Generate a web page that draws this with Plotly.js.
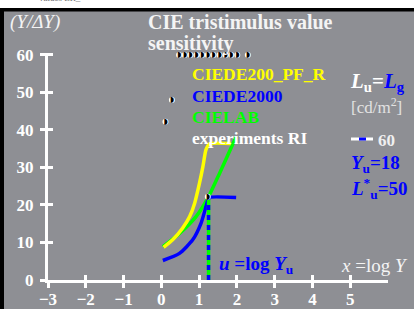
<!DOCTYPE html>
<html><head><meta charset="utf-8">
<script src="https://cdn.plot.ly/plotly-3.0.1.min.js"></script>
<style>html,body{margin:0;padding:0;background:#fff;}#chart{width:414px;height:309px;}</style>
</head><body><div id="chart"></div>
<script>
// ---- data ----
const xTicks = [-3, -2, -1, 0, 1, 2, 3, 4, 5];
const yTicks = [0, 10, 20, 30, 40, 50, 60];
const pfX = [0.06, 0.3, 0.56, 0.75, 0.88, 1.01, 1.1, 1.18, 1.28, 1.84];
const pfY = [8.7, 10.7, 13.8, 16.9, 20.4, 25.8, 30.2, 34.7, 36.3, 36.4];
const labX = [0.04, 0.48, 0.92, 1.23, 1.54, 1.98];
const labY = [8.9, 12.4, 16.9, 21.8, 28.4, 38.2];
const de2000X = [0.04, 0.48, 0.83, 1.05, 1.18, 1.23, 1.27, 1.98];
const de2000Y = [5.2, 7.1, 10.7, 15.1, 19.5, 21.3, 22.0, 22.0];
const uX = [1.25, 1.25];
const uY = [0, 21.5];
const expX = [0.11, 0.28, 0.47, 0.62, 0.77, 0.93, 1.08, 1.23, 1.38, 1.54, 1.70, 1.85, 2.01, 2.29, 1.23];
const expY = [42.2, 48, 60, 60, 60, 60, 60, 60, 60, 60, 60, 60, 60, 60, 22.2];

// ---- helpers (layout positions in pixels -> paper) ----
const L = 48, R = 26, T = 53, B = 29, W = 414, H = 309;
const pw = W - L - R, ph = H - T - B;
const fx = p => (p - L) / pw;
const fy = p => (H - B - p) / ph;
const GRAY = '#8e8f94';
const FONT = 'Liberation Serif';

const traces = [
  {x: labX, y: labY, mode: 'lines', line: {color: '#00ff00', width: 3.5, shape: 'spline', smoothing: 0.6}, hoverinfo: 'skip'},
  {x: pfX, y: pfY, mode: 'lines', line: {color: '#ffff00', width: 3.5, shape: 'spline', smoothing: 0.5}, hoverinfo: 'skip'},
  {x: de2000X, y: de2000Y, mode: 'lines', line: {color: '#0000ff', width: 3.5, shape: 'spline', smoothing: 0.6}, hoverinfo: 'skip'},
  {x: uX, y: uY, mode: 'lines', line: {color: '#00ff00', width: 3.5}, hoverinfo: 'skip'},
  {x: uX, y: uY, mode: 'lines', line: {color: '#0000ff', width: 3.5, dash: '5px,5px'}, hoverinfo: 'skip'},
  {x: expX, y: expY, mode: 'markers+text', xaxis: 'x2', yaxis: 'y2',
   marker: {color: '#ffffff', size: 6, line: {width: 0}},
   text: expX.map(() => '\u25D7'), textposition: 'middle center',
   textfont: {family: 'DejaVu Sans', size: 8, color: '#000000'}, hoverinfo: 'skip', cliponaxis: false}
];

const tf = {family: FONT, size: 17, color: '#ffffff', weight: 'bold'};
function ann(px, py, text, size, color, extra) {
  return Object.assign({xref: 'paper', yref: 'paper', x: fx(px), y: fy(py), xanchor: 'left', yanchor: 'middle',
    text: text, showarrow: false, font: {family: FONT, size: size, color: color, weight: 'bold'}}, extra || {});
}

const annotations = [
  ann(8, 22, '<i>(Y/ΔY)</i>', 19, '#ffffff', {font: {family: FONT, size: 19, color: '#f4f4f4', weight: 'normal'}}),
  ann(146, 22, 'CIE tristimulus value', 20, '#f4f4f4'),
  ann(146, 44, 'sensitivity', 20, '#f4f4f4'),
  ann(190, 74, 'CIEDE200_PF_R', 17.5, '#ffff00'),
  ann(190, 96, 'CIEDE2000', 17.5, '#0000ff'),
  ann(190, 117, 'CIELAB', 17.5, '#00ff00'),
  ann(190, 138, 'experiments RI', 17.5, '#ffffff'),
  ann(348, 82, '<i>L</i><sub>u</sub>=<span style="color:#0000ff"><i>L</i><sub>g</sub></span>', 21, '#ffffff'),
  ann(349, 106, '[cd/m<sup>2</sup>]', 17, '#e2e2e2', {font: {family: FONT, size: 17, color: '#e2e2e2', weight: 'normal'}}),
  ann(376, 140, '60', 17, '#f0f0f0'),
  ann(349, 164, '<i>Y</i><sub>u</sub>=18', 19, '#0000ff'),
  ann(349, 188, '<i>L</i><sup>*</sup><sub>u</sub>=50', 19, '#0000ff'),
  ann(217, 265, '<i>u</i> =log <i>Y</i><sub>u</sub>', 19, '#0000ff'),
  ann(339, 265, '<i>x</i> =log <i>Y</i>', 19, '#f4f4f4', {font: {family: FONT, size: 19, color: '#f4f4f4', weight: 'normal'}}),
  {xref: 'paper', yref: 'paper', x: fx(60), y: fy(-2), xanchor: 'center', yanchor: 'middle', showarrow: false,
   text: 'values LR_', font: {family: FONT, size: 9, color: '#666666'}}
];

const shapes = [
  {type: 'rect', xref: 'paper', yref: 'paper', x0: fx(0), x1: fx(W), y0: fy(0), y1: fy(8), fillcolor: '#ffffff', line: {width: 0}, layer: 'below'},
  {type: 'rect', xref: 'paper', yref: 'paper', x0: fx(0), x1: fx(W), y0: fy(8), y1: fy(11.5), fillcolor: '#000000', line: {width: 0}},
  {type: 'rect', xref: 'paper', yref: 'paper', x0: fx(0), x1: fx(4), y0: fy(8), y1: fy(H), fillcolor: '#000000', line: {width: 0}},
  {type: 'line', xref: 'paper', yref: 'paper', x0: fx(351), x1: fx(373), y0: fy(139), y1: fy(139), line: {color: '#ffffff', width: 3}},
  {type: 'line', xref: 'paper', yref: 'paper', x0: fx(359), x1: fx(366), y0: fy(139), y1: fy(139), line: {color: '#0000ff', width: 3}}
];

const layout = {
  width: W, height: H, autosize: false,
  margin: {l: L, r: R, t: T, b: B, pad: 0},
  paper_bgcolor: GRAY, plot_bgcolor: GRAY,
  showlegend: false,
  xaxis: {range: [-3, 6], tickvals: xTicks, ticktext: xTicks.map(v => v < 0 ? '\u2212' + Math.abs(v) : String(v)),
    ticks: 'outside', ticklen: 5, tickwidth: 3, tickcolor: '#ffffff',
    showline: true, linecolor: '#ffffff', linewidth: 3, showgrid: false, zeroline: false,
    tickfont: tf, ticklabelstandoff: -3, fixedrange: true},
  yaxis: {range: [0, 60.5], tickvals: yTicks, ticks: 'outside', ticklen: 5, tickwidth: 3, tickcolor: '#ffffff',
    showline: true, linecolor: '#ffffff', linewidth: 3, showgrid: false, zeroline: false,
    tickfont: tf, ticklabelstandoff: 3, fixedrange: true},
  xaxis2: {overlaying: 'x', matches: 'x', tickvals: xTicks, ticks: 'inside', ticklen: 5, tickwidth: 3, tickcolor: '#ffffff',
    showticklabels: false, showline: false, showgrid: false, zeroline: false, side: 'bottom', anchor: 'y2'},
  yaxis2: {overlaying: 'y', matches: 'y', tickvals: yTicks, ticks: 'inside', ticklen: 5, tickwidth: 3, tickcolor: '#ffffff',
    showticklabels: false, showline: false, showgrid: false, zeroline: false, side: 'left', anchor: 'x2'},
  annotations: annotations,
  shapes: shapes
};

Plotly.newPlot('chart', traces, layout, {staticPlot: true, displayModeBar: false});
</script>
</body></html>
